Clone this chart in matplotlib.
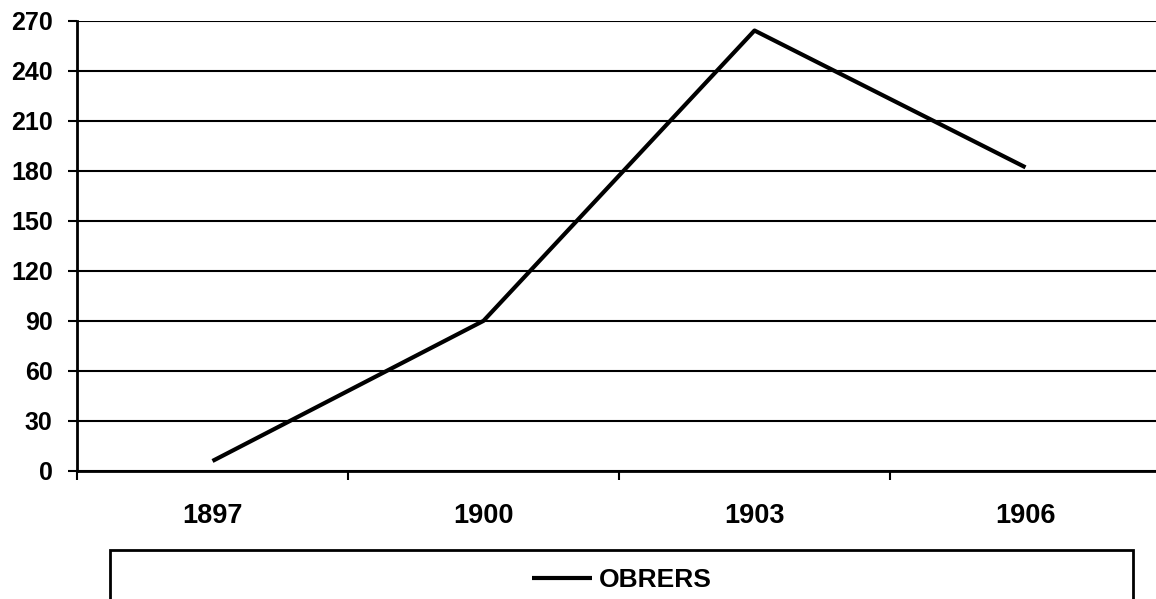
import matplotlib.pyplot as plt
from matplotlib.patches import Rectangle
import numpy as np

plt.rcParams['font.family'] = ['Liberation Sans', 'DejaVu Sans']
plt.rcParams['font.weight'] = 'bold'

years = ['1897', '1900', '1903', '1906']
obrers = [6, 90, 264, 182]
yticks = [0, 30, 60, 90, 120, 150, 180, 210, 240, 270]

W, H = 1156, 599
fig = plt.figure(figsize=(W / 100, H / 100), dpi=100)
ax = fig.add_axes([77 / W, (H - 471) / H, 1084 / W, 450.5 / H])

x = np.arange(len(years))
line, = ax.plot(x, obrers, color='black', lw=3, solid_capstyle='butt',
                label='OBRERS', zorder=3)

ax.set_xlim(-0.5, len(years) - 0.5)
ax.set_ylim(0, 270)

# horizontal gridlines
ax.set_yticks(yticks)
ax.yaxis.grid(True, color='black', lw=1.5)
ax.set_axisbelow(True)

# tick marks between categories, labels at category centres
ax.set_xticks(np.arange(-0.5, len(years), 1.0))
ax.set_xticklabels([])
ax.set_xticks(x, minor=True)
ax.set_xticklabels(years, minor=True, fontsize=19.5, fontweight='bold')
ax.tick_params(axis='x', which='major', length=6.5, width=1.5, direction='out')
ax.tick_params(axis='x', which='minor', length=0, pad=23)
ax.tick_params(axis='y', length=6.5, width=1.5, pad=11, labelsize=18)
for lab in ax.get_yticklabels():
    lab.set_fontweight('bold')

for side in ['top', 'right']:
    ax.spines[side].set_visible(False)
ax.spines['left'].set_linewidth(2)
ax.spines['bottom'].set_linewidth(2)

# legend box below the plot
fig.patches.append(Rectangle((110 / W, -0.05), (1133 - 110) / W, (H - 550) / H + 0.05,
                             transform=fig.transFigure, fill=False,
                             edgecolor='black', lw=2))
fig.legend(handles=[line], loc='center', bbox_to_anchor=(622 / W, 19 / H),
           frameon=False, prop={'size': 19, 'weight': 'bold'},
           handlelength=2.27, handletextpad=0.27)

fig.savefig('out.png', dpi=100)
